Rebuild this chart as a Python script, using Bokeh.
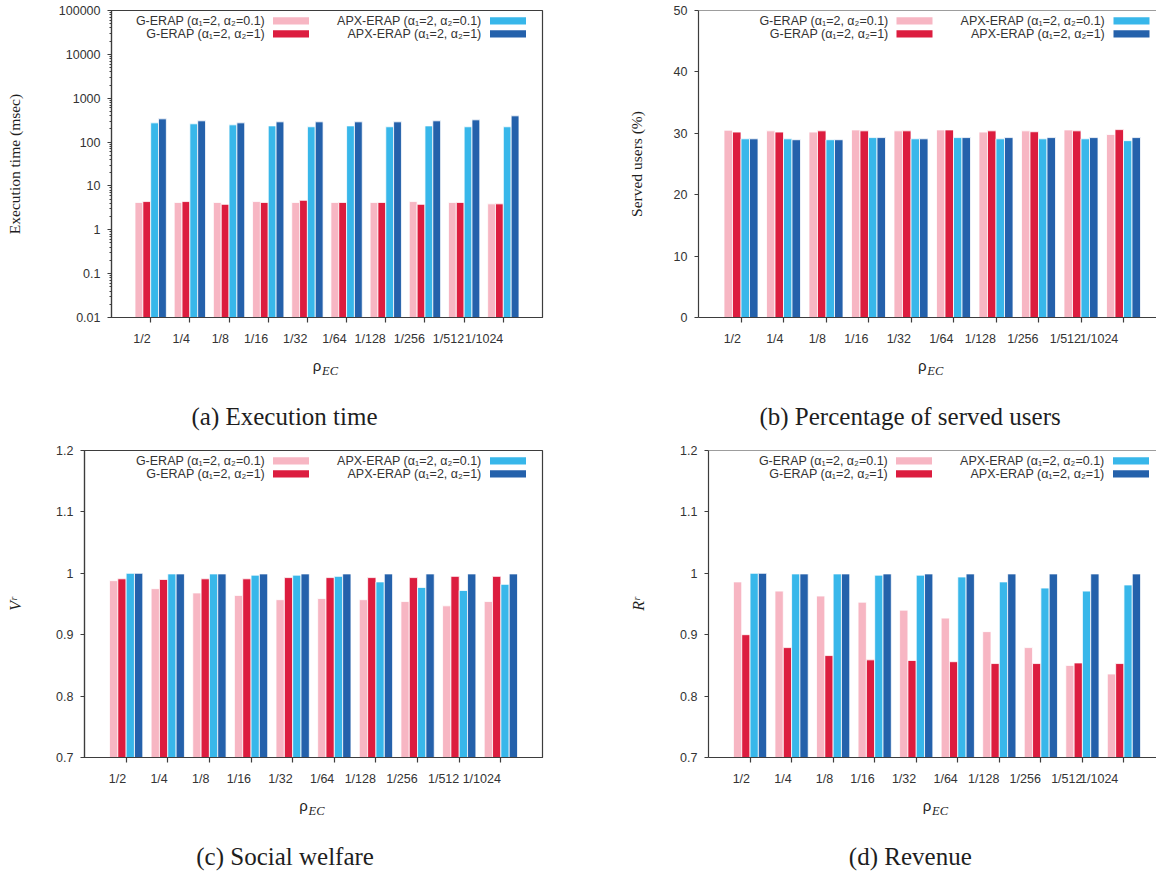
from math import log10
from bokeh.plotting import figure
from bokeh.models import Range1d, Label, FixedTicker, NumeralTickFormatter, Span
from bokeh.layouts import column, row
from bokeh.embed import file_html
from bokeh.resources import INLINE

# ---------------- data ----------------
categories = ["1/2", "1/4", "1/8", "1/16", "1/32", "1/64", "1/128", "1/256", "1/512", "1/1024"]
series_names = ["G-ERAP (α₁=2, α₂=0.1)", "G-ERAP (α₁=2, α₂=1)",
                "APX-ERAP (α₁=2, α₂=0.1)", "APX-ERAP (α₁=2, α₂=1)"]

exec_g01 = [4.2, 4.2, 4.2, 4.4, 4.2, 4.2, 4.2, 4.4, 4.2, 3.9]
exec_g1 = [4.4, 4.4, 3.8, 4.2, 4.7, 4.2, 4.2, 3.8, 4.2, 3.9]
exec_apx01 = [274, 261, 247, 234, 223, 234, 223, 234, 223, 223]
exec_apx1 = [338, 305, 274, 289, 289, 289, 289, 305, 321, 396]

served_g01 = [30.5, 30.4, 30.2, 30.55, 30.4, 30.55, 30.2, 30.4, 30.55, 29.8]
served_g1 = [30.2, 30.2, 30.4, 30.4, 30.4, 30.55, 30.4, 30.25, 30.4, 30.6]
served_apx01 = [29.1, 29.1, 28.95, 29.3, 29.1, 29.3, 29.1, 29.1, 29.1, 28.8]
served_apx1 = [29.1, 28.95, 28.95, 29.3, 29.1, 29.3, 29.3, 29.3, 29.3, 29.3]

welfare_g01 = [0.988, 0.975, 0.968, 0.964, 0.957, 0.959, 0.957, 0.954, 0.947, 0.954]
welfare_g1 = [0.991, 0.990, 0.991, 0.991, 0.993, 0.993, 0.993, 0.993, 0.995, 0.995]
welfare_apx01 = [1.000, 0.999, 0.999, 0.997, 0.997, 0.995, 0.986, 0.977, 0.972, 0.982]
welfare_apx1 = [1.000, 0.999, 0.999, 0.999, 0.999, 0.999, 0.999, 0.999, 0.999, 0.999]

revenue_g01 = [0.986, 0.971, 0.963, 0.953, 0.940, 0.927, 0.905, 0.879, 0.850, 0.836]
revenue_g1 = [0.900, 0.879, 0.866, 0.859, 0.858, 0.856, 0.853, 0.853, 0.854, 0.853]
revenue_apx01 = [1.000, 0.999, 0.999, 0.997, 0.997, 0.994, 0.986, 0.976, 0.971, 0.981]
revenue_apx1 = [1.000, 0.999, 0.999, 0.999, 0.999, 0.999, 0.999, 0.999, 0.999, 0.999]

exec_ticks = [0.01, 0.1, 1, 10, 100, 1000, 10000, 100000]
served_ticks = [0, 10, 20, 30, 40, 50]
ratio_ticks = [0.7, 0.8, 0.9, 1.0, 1.1, 1.2]

# ---------------- style ----------------
colors = ["#f7b6c3", "#dc1d3f", "#38b7ea", "#2461ab"]
offsets = [-0.3, -0.1, 0.1, 0.3]
AX = "#3d3d3d"
TXT = "#333333"
DARK = "#1e1e1e"
SANS = "Liberation Sans"
SERIF = "Liberation Serif"
NBSP = "\u00a0"
TICK_FS = "12.5px"


def right_aligned(label):
    # trailing no-break spaces of the same advance as the label, so that the
    # centred tick label ends exactly at its tick (digit = 2 spaces, "/" = 1 space)
    return label + NBSP * sum(2 if ch.isdigit() else 1 for ch in label)


def make_panel(fig, frame, yrange, ylog, yticks, yfmt, minor, values, ytitle, ytitle_style,
               ytitle_size, ytitle_standoff, caption, boxed):
    ox, oy, fw, fh = fig
    fl, fr_full, ft, fb = frame
    fr = min(fr_full, ox + fw)
    unit = (fr_full - fl) / 11.0
    y0, y1 = yrange

    def X(px):
        return (px - fl) / unit

    def Y(py):
        f = (fb - py) / (fb - ft)
        if ylog:
            return 10 ** (log10(y0) + f * (log10(y1) - log10(y0)))
        return y0 + f * (y1 - y0)

    p = figure(width=fw, height=fh, x_range=Range1d(0, X(fr)), y_range=Range1d(y0, y1),
               y_axis_type="log" if ylog else "linear", output_backend="svg",
               toolbar_location=None,
               min_border_left=int(fl - ox), min_border_right=int(round(ox + fw - fr)),
               min_border_top=int(ft - oy), min_border_bottom=int(oy + fh - fb))
    p.background_fill_color = "white"
    p.border_fill_color = "white"
    p.xgrid.visible = False
    p.ygrid.visible = False
    if boxed:
        p.outline_line_color = AX
        p.outline_line_width = 1.2
        p.outline_line_alpha = 1.0
    else:
        p.outline_line_color = None
        p.add_layout(Span(location=y1, dimension="width", line_color=AX, line_width=1.2))

    xs = list(range(1, len(categories) + 1))
    for k, vals in enumerate(values):
        p.vbar(x=[x + offsets[k] for x in xs], top=vals, bottom=y0, width=0.2,
               fill_color=colors[k], line_color="white", line_width=0.8)

    # x axis: ticks at the categories, labels ending at their tick
    xa = p.xaxis[0]
    xa.ticker = FixedTicker(ticks=xs)
    xa.major_label_overrides = {x: right_aligned(c) for x, c in zip(xs, categories)}
    xa.major_label_text_font = SANS
    xa.major_label_text_font_size = TICK_FS
    xa.major_label_text_color = TXT
    xa.major_label_standoff = 9
    xa.axis_line_color = AX
    xa.axis_line_width = 1.2
    xa.major_tick_line_color = AX
    xa.major_tick_line_width = 1.2
    xa.major_tick_out = 5
    xa.major_tick_in = 0
    xa.minor_tick_line_color = None

    ya = p.yaxis[0]
    ya.ticker = FixedTicker(ticks=yticks, minor_ticks=minor)
    ya.formatter = NumeralTickFormatter(format=yfmt)
    ya.axis_line_color = AX
    ya.axis_line_width = 1.2
    ya.major_tick_line_color = AX
    ya.major_tick_line_width = 1.2
    ya.major_tick_out = 4
    ya.major_tick_in = 0
    ya.minor_tick_line_color = AX if minor else None
    ya.minor_tick_out = 2
    ya.minor_tick_in = 0
    ya.major_label_text_font = SANS
    ya.major_label_text_font_size = TICK_FS
    ya.major_label_text_color = TXT
    ya.major_label_standoff = 7
    ya.axis_label = ytitle
    ya.axis_label_text_font = SERIF
    ya.axis_label_text_font_size = f"{ytitle_size}px"
    ya.axis_label_text_font_style = ytitle_style
    ya.axis_label_text_color = DARK
    ya.axis_label_standoff = ytitle_standoff

    def lab(px, py, text, size, font=SANS, color=TXT, align="left", baseline="middle",
            style="normal", place=None):
        l = Label(x=X(px), y=Y(py), text=text, text_font=font,
                  text_font_size=f"{size}px", text_color=color, text_align=align,
                  text_baseline=baseline, text_font_style=style)
        if place:
            p.add_layout(l, place)
        else:
            p.add_layout(l)

    # x title rho_EC (side panel, so that it is not clipped to the frame)
    cx = (fl + fr_full) / 2.0
    lab(cx - 5.6, fb + 48, "ρ", 15, align="right", baseline="alphabetic", color=DARK, place="below")
    lab(cx - 5.0, fb + 53, "EC", 12.5, font=SERIF, style="italic", baseline="alphabetic",
        color=DARK, place="below")

    # legend (inside the frame, top right, text left of the swatch)
    R = fr_full
    for k, name in enumerate(series_names):
        colk, rowk = divmod(k, 2)
        ry = ft + 10.3 + 13 * rowk
        tx = R - 277.5 if colk == 0 else R - 61
        bl = R - 269.5 if colk == 0 else R - 52.5
        lab(tx, ry, name, 12.5, align="right")
        p.quad(left=[X(bl)], right=[X(bl + 36)], top=[Y(ry - 3.6)], bottom=[Y(ry + 3.6)],
               fill_color=colors[k], line_color=None)

    # sub-caption
    cap_text, cap_cx = caption
    lab(cap_cx, fb + 99, cap_text, 25, font=SERIF, align="center", color=DARK, place="below")
    return p


log_minor = [m * 10 ** e for e in range(-2, 5) for m in range(2, 10)]

pa = make_panel((0, 0, 600, 440), (111, 542, 10, 317), (0.01, 100000), True, exec_ticks, "0.[00]",
                log_minor, [exec_g01, exec_g1, exec_apx01, exec_apx1],
                "Execution time (msec)", "normal", 15.5, 33,
                ("(a) Execution time", 284), True)
pb = make_panel((600, 0, 556, 440), (698, 1165.5, 10, 317), (0, 50), False, served_ticks, "0",
                [], [served_g01, served_g1, served_apx01, served_apx1],
                "Served users (%)", "normal", 15.5, 26,
                ("(b) Percentage of served users", 909.6), False)
pc = make_panel((0, 440, 600, 431), (84, 542, 450, 757), (0.7, 1.2), False, ratio_ticks, "0.[0]",
                [], [welfare_g01, welfare_g1, welfare_apx01, welfare_apx1],
                "Vʳ", "italic", 16, 29,
                ("(c) Social welfare", 284.6), True)
pd = make_panel((600, 440, 556, 431), (708, 1165, 450, 757), (0.7, 1.2), False, ratio_ticks, "0.[0]",
                [], [revenue_g01, revenue_g1, revenue_apx01, revenue_apx1],
                "Rʳ", "italic", 16, 30,
                ("(d) Revenue", 909.8), False)

layout = column(row(pa, pb), row(pc, pd))
open("out.html", "w").write(file_html(layout, INLINE))
